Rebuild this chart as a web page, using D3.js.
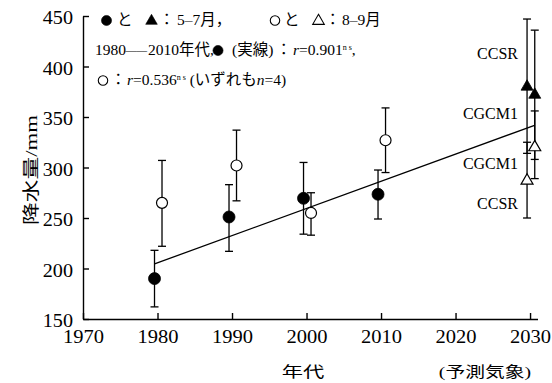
<!DOCTYPE html>
<html>
<head>
<meta charset="utf-8">
<script src="https://cdn.jsdelivr.net/npm/d3@7"></script>
<style>
body { margin: 0; background: #fff; }
svg { display: block; }
text { font-family: "Liberation Serif", "Noto Sans CJK JP", serif; fill: #000; }
.cjk { font-family: "Noto Sans CJK JP", sans-serif; }
</style>
</head>
<body>
<div id="chart"></div>
<script>
// observed decades (●: 5-7月, ○: 8-9月)
var decades = [1980, 1990, 2000, 2010]
var mayJul = [190, 251, 269.5, 273.5]
var mayJulLow = [162, 217, 234, 249]
var mayJulHigh = [218, 283, 305, 297.5]
var augSep = [265, 302, 255, 327]
var augSepLow = [222, 267, 233, 295]
var augSepHigh = [307, 337, 275, 359]

// projections (予測気象) for 2030
var projYear = 2030
var models = ['CCSR', 'CGCM1']
var projMayJul = [380, 372]
var projMayJulLow = [314, 308]
var projMayJulHigh = [447, 436]
var projAugSep = [287, 320]
var projAugSepLow = [250, 289]
var projAugSepHigh = [325, 356]

var modelLabels = ['CCSR', 'CGCM1', 'CGCM1', 'CCSR']
var modelLabelValues = [413, 354, 304.5, 264]

var trendYears = [1979.6, 2030.6]
var yTicks = [150, 200, 250, 300, 350, 400, 450]
var xTicks = [1970, 1980, 1990, 2000, 2010, 2020, 2030]

var W = 552, H = 383

var x = d3.scaleLinear().domain([1970, 2031]).range([83, 537.5])
var y = d3.scaleLinear().domain([150, 450]).range([319, 16])

const svg = d3.select('#chart')
    .append('svg')
    .attr('width', W)
    .attr('height', H)

// axes, ticks pointing inward
var yAxis = g => g
    .attr('transform', `translate(${x(1970)}, 0)`)
    .call(d3.axisLeft(y).tickValues(yTicks).tickSize(-6).tickSizeOuter(0).tickPadding(10))

var xAxis = g => g
    .attr('transform', `translate(0, ${y(150)})`)
    .call(d3.axisBottom(x).tickValues(xTicks).tickFormat(d3.format('d'))
        .tickSize(-6).tickSizeOuter(0).tickPadding(11))

svg.append('g').call(yAxis)
    .call(g => g.selectAll('text').attr('font-size', 18).attr('dy', '0.42em')
        .attr('transform', 'scale(1.12,1)').attr('x', -10 / 1.12))
svg.append('g').call(xAxis)
    .call(g => g.selectAll('text').attr('font-size', 18).attr('transform', 'scale(1.14,1)'))
svg.selectAll('.domain, .tick line').attr('stroke', '#000').attr('stroke-width', 1.4)

// regression line of 5-7月 values
var mx = d3.mean(decades), my = d3.mean(mayJul)
var slope = d3.sum(decades, (d, i) => (d - mx) * (mayJul[i] - my)) / d3.sum(decades, d => (d - mx) * (d - mx))
var trend = d3.line().x(d => x(d)).y(d => y(my + slope * (d - mx)))
svg.append('path')
    .datum(trendYears)
    .attr('fill', 'none')
    .attr('stroke', '#000')
    .attr('stroke-width', 1.3)
    .attr('d', trend)

// points: {year, v, lo, hi, dx, shape, filled}
var pts = []
decades.forEach((d, i) => {
    pts.push({year: d, v: mayJul[i], lo: mayJulLow[i], hi: mayJulHigh[i], dx: -3, shape: 'circle', filled: true})
    pts.push({year: d, v: augSep[i], lo: augSepLow[i], hi: augSepHigh[i], dx: 4.5, shape: 'circle', filled: false})
})
var modelDx = {CCSR: -3, CGCM1: 4.7}
models.forEach((m, i) => {
    pts.push({year: projYear, v: projMayJul[i], lo: projMayJulLow[i], hi: projMayJulHigh[i], dx: modelDx[m], shape: 'tri', filled: true})
    pts.push({year: projYear, v: projAugSep[i], lo: projAugSepLow[i], hi: projAugSepHigh[i], dx: modelDx[m], shape: 'tri', filled: false})
})

var eb = svg.append('g').attr('stroke', '#000').attr('stroke-width', 1.3)
pts.forEach(p => {
    var px = x(p.year) + p.dx
    eb.append('line').attr('x1', px).attr('x2', px).attr('y1', y(p.lo)).attr('y2', y(p.hi))
    eb.append('line').attr('x1', px - 4).attr('x2', px + 4).attr('y1', y(p.lo)).attr('y2', y(p.lo))
    eb.append('line').attr('x1', px - 4).attr('x2', px + 4).attr('y1', y(p.hi)).attr('y2', y(p.hi))
})

var tri = d3.symbol(d3.symbolTriangle, 62)
svg.append('g')
    .selectAll('path')
    .data(pts)
    .join('path')
        .attr('transform', p => `translate(${x(p.year) + p.dx}, ${y(p.v)})`)
        .attr('d', p => p.shape === 'tri' ? tri() : d3.symbol(d3.symbolCircle, p.filled ? 113 : 95)())
        .attr('fill', p => p.filled ? '#000' : '#fff')
        .attr('stroke', '#000')
        .attr('stroke-width', p => p.filled ? 0.8 : 1.2)

// model labels at 2030
svg.append('g')
    .selectAll('text')
    .data(modelLabels)
    .join('text')
        .attr('x', 518)
        .attr('y', (d, i) => y(modelLabelValues[i]))
        .attr('dy', '0.35em')
        .attr('text-anchor', 'end')
        .attr('font-size', 16)
        .text(d => d)

// axis titles (flattened CJK glyphs like the original)
svg.append('g')
    .attr('transform', 'translate(31, 170) rotate(-90) scale(1.38, 1)')
    .append('text')
        .attr('text-anchor', 'middle')
        .attr('dy', '0.36em')
        .attr('font-size', 16.5)
        .text('降水量/mm')

svg.append('g')
    .attr('transform', 'translate(303, 377) scale(1.42, 1)')
    .append('text')
        .attr('text-anchor', 'middle')
        .attr('font-size', 15)
        .text('年代')

svg.append('g')
    .attr('transform', 'translate(485, 377) scale(1.32, 1)')
    .append('text')
        .attr('text-anchor', 'middle')
        .attr('font-size', 15)
        .text('(予測気象)')

// legend
var lg = svg.append('g').attr('font-size', 15.5)
function seg(px, py, str, cls) {
    return lg.append('text').attr('x', px).attr('y', py).attr('class', cls || null).text(str)
}
function mark(px, py, shape, filled) {
    lg.append('path')
        .attr('transform', `translate(${px}, ${py})`)
        .attr('d', shape === 'tri' ? d3.symbol(d3.symbolTriangle, 58)() : d3.symbol(d3.symbolCircle, filled ? 80 : 70)())
        .attr('fill', filled ? '#000' : '#fff')
        .attr('stroke', '#000')
        .attr('stroke-width', filled ? 0.6 : 1.1)
}

mark(106.5, 20.5, 'circle', true)
seg(117, 25, 'と', 'cjk')
mark(151.5, 21, 'tri', true)
seg(159, 25, '：', 'cjk')
seg(177, 25, '5–7月，')
mark(275, 20.5, 'circle', false)
seg(284, 25, 'と', 'cjk')
mark(318.5, 21, 'tri', false)
seg(325, 25, '：', 'cjk')
seg(342, 25, '8–9月')

seg(95, 55, '1980')
seg(125.5, 53.5, '——').attr('font-size', 10.8)
seg(148, 55, '2010年代,')
mark(218, 50.5, 'circle', true)
seg(232, 55, '(実線)')
seg(276, 55, '：', 'cjk')
var r1 = seg(293, 55, 'r')
r1.attr('font-style', 'italic')
r1.append('tspan').attr('font-style', 'normal').text('=0.901')
r1.append('tspan').attr('font-style', 'normal').attr('font-size', 8).attr('dy', -5).text('n s')
r1.append('tspan').attr('font-style', 'normal').attr('dy', 5).text(',')

mark(103, 80.5, 'circle', false)
seg(110.5, 85, '：', 'cjk')
var r2 = seg(127, 85, 'r')
r2.attr('font-style', 'italic')
r2.append('tspan').attr('font-style', 'normal').text('=0.536')
r2.append('tspan').attr('font-style', 'normal').attr('font-size', 8).attr('dy', -5).text('n s')
r2.append('tspan').attr('font-style', 'normal').attr('dy', 5).text(' (いずれも')
r2.append('tspan').text('n')
r2.append('tspan').attr('font-style', 'normal').text('=4)')
</script>
</body>
</html>
